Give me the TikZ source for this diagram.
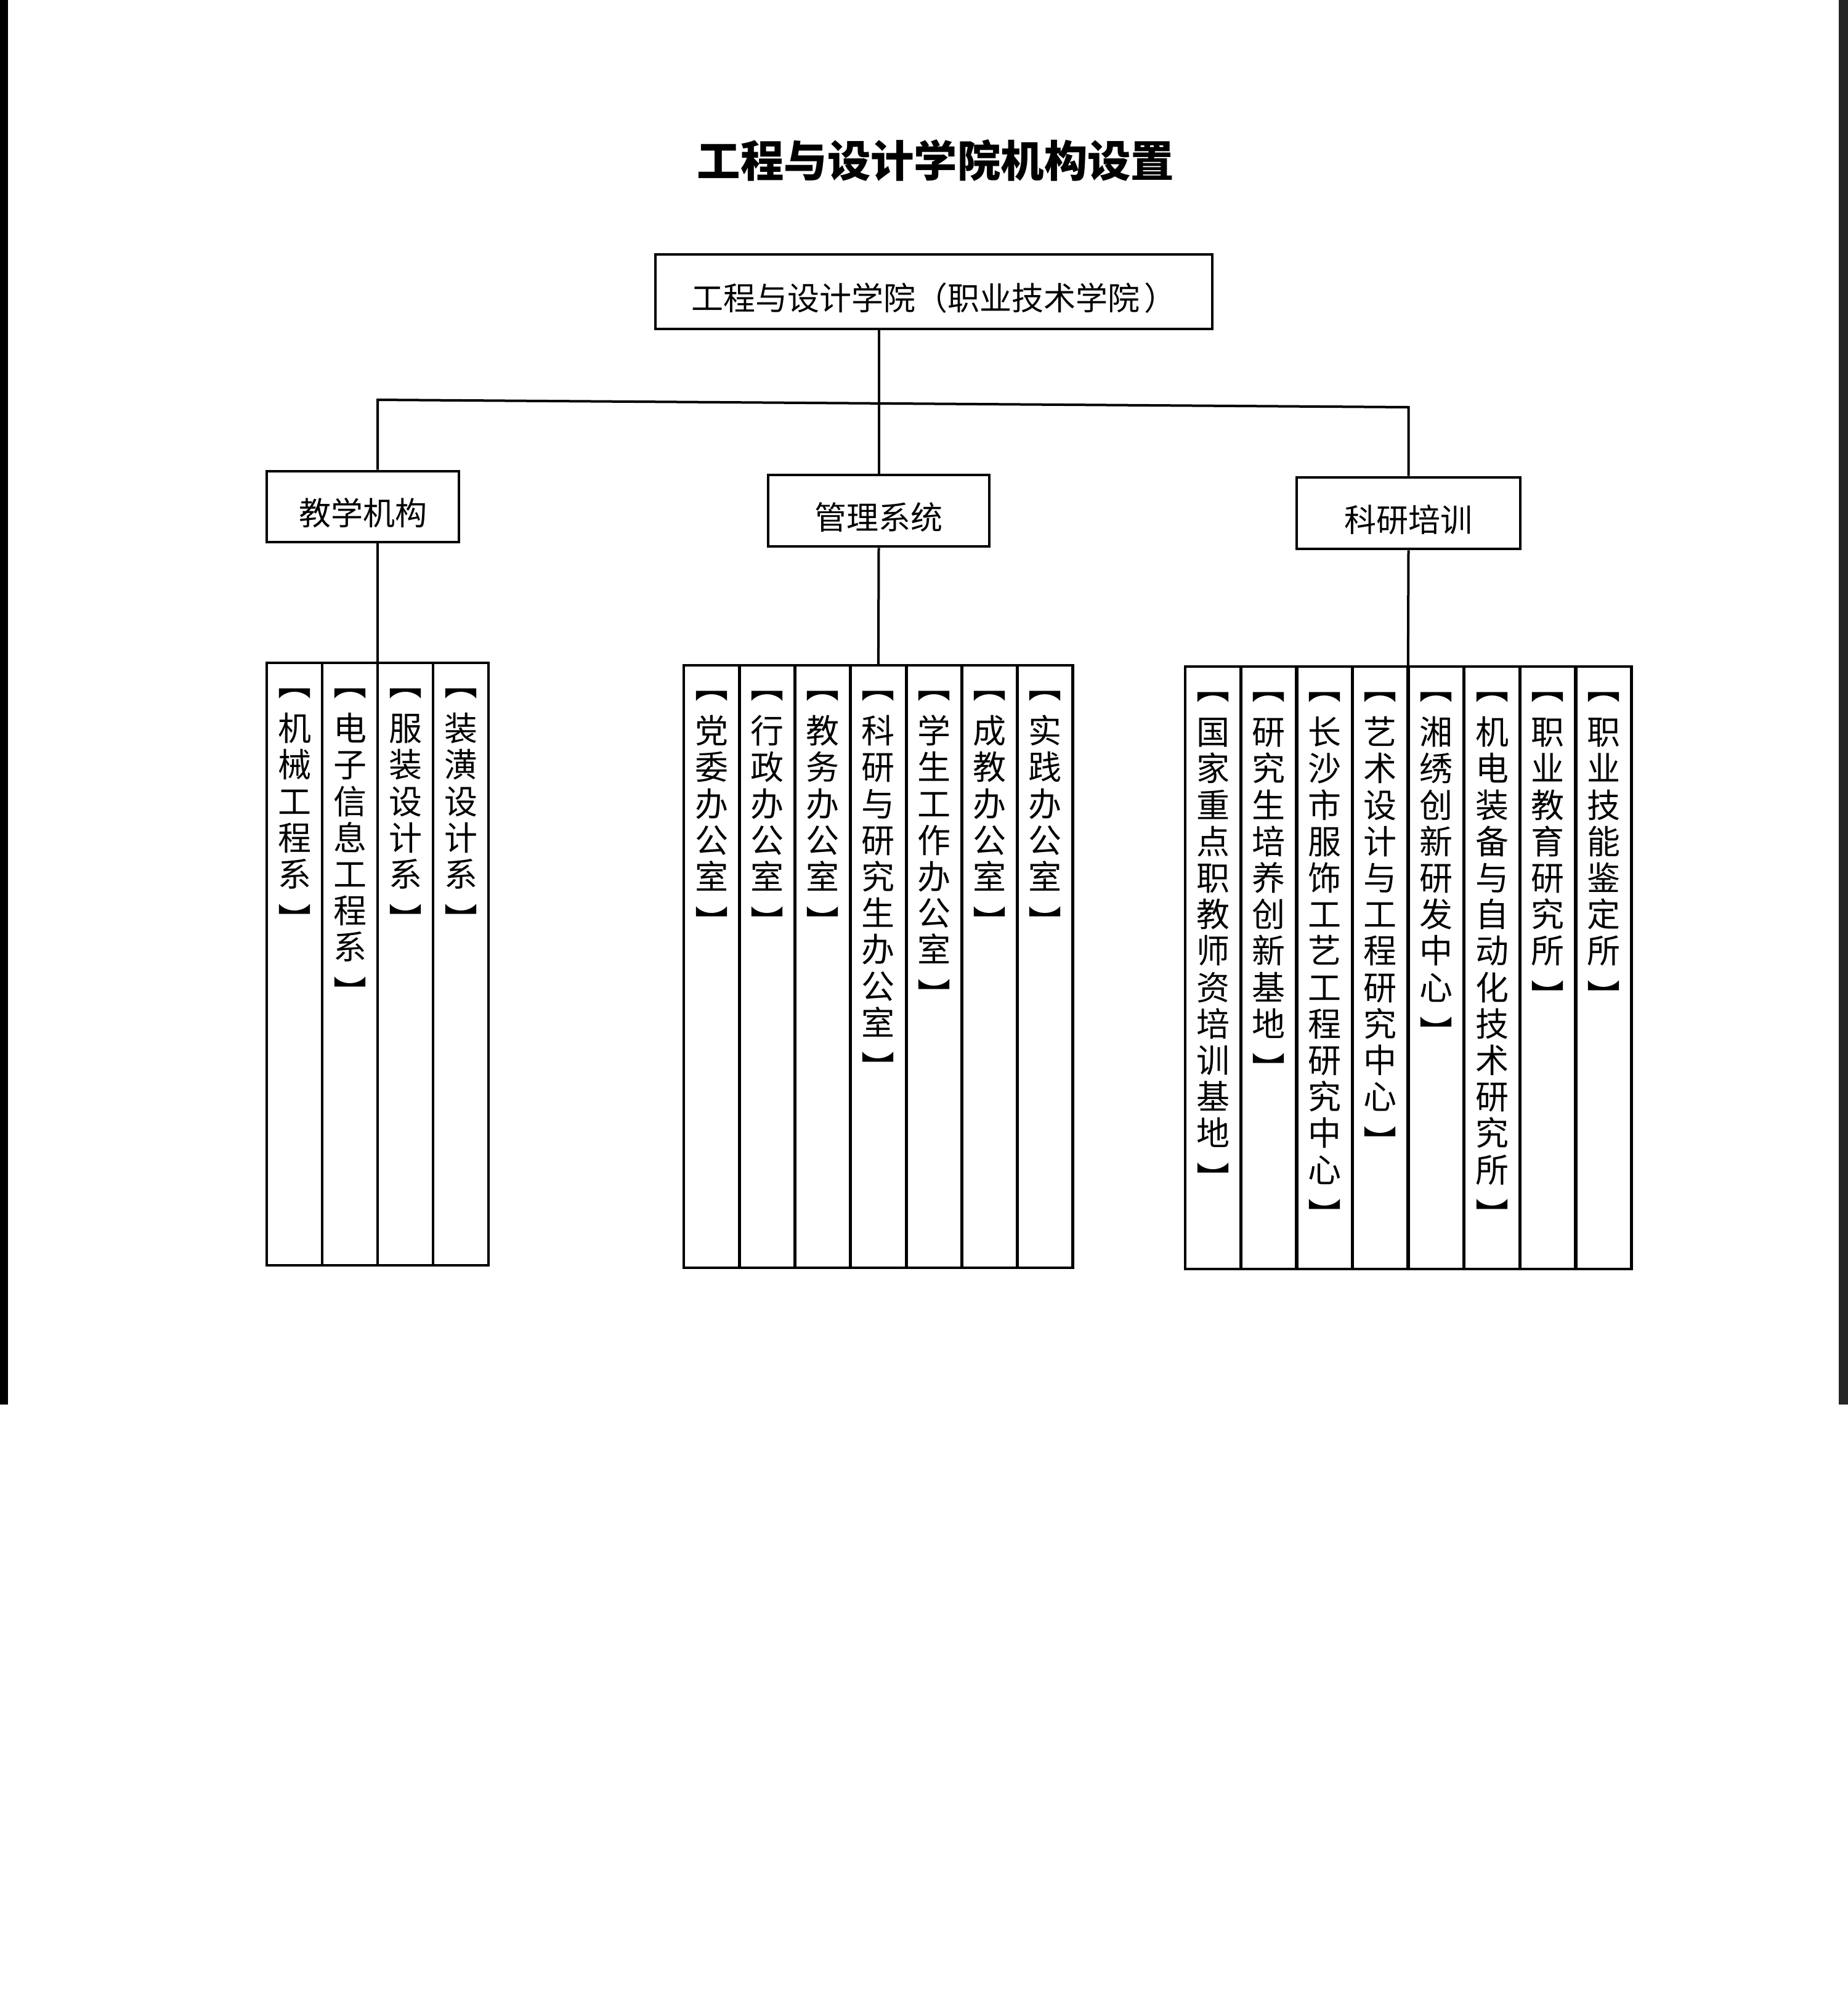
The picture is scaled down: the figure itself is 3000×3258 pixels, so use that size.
\documentclass[tikz,border=0pt]{standalone}
\usepackage{fontspec}
\newfontfamily\cjk{Noto Sans CJK SC}
\newcommand\leafcol[4]{%
  \node[leafbox, anchor=north west] (#1) at (#2,#3) {};
  \node[leaftext, anchor=north] (#1t) at ([yshift=-10.2pt]#1.north) {︻\\[3.6pt]#4\\[3.6pt]︼};}
\begin{document}
\begin{tikzpicture}[x=0.25pt,y=-0.25pt,
  box/.style={draw=black, line width=1.2pt, fill=white, inner sep=0pt},
  boxtext/.style={inner sep=0pt, font=\cjk\fontsize{13pt}{15pt}\selectfont},
  conn/.style={draw=black, line width=1pt},
  leafbox/.style={draw=black, line width=1.2pt, minimum width=22.5pt, minimum height=244.5pt, inner sep=0pt, outer sep=0pt},
  leaftext/.style={align=center, inner sep=0pt, font=\cjk\fontsize{13.5pt}{14.8pt}\selectfont}]
\useasboundingbox (0,0) rectangle (3000,3258);
\fill[white] (0,0) rectangle (3000,3258);
\fill[black] (0,0) rectangle (13,2280);
\fill[black!85] (2985,0) rectangle (3000,2280);

\node[font=\cjk\bfseries\fontsize{17.6pt}{20pt}\selectfont, inner sep=0pt] (title) at (1519,260) {工程与设计学院机构设置};

\node[box, minimum width=226pt, minimum height=30.25pt] (top) at (1516,473.5) {};
\node[boxtext] (topt) at ([yshift=-2.6pt]top.center) {工程与设计学院（职业技术学院\hspace{2pt}）};
\node[box, minimum width=78pt, minimum height=28.75pt] (L2a) at (589,822.5) {};
\node[boxtext] (L2at) at ([yshift=-2.6pt]L2a.center) {教学机构};
\node[box, minimum width=89.75pt, minimum height=29pt] (L2b) at (1426.5,829) {};
\node[boxtext] (L2bt) at ([yshift=-2.6pt]L2b.center) {管理系统};
\node[box, minimum width=90.75pt, minimum height=29pt] (L2c) at (2286.5,833) {};
\node[boxtext] (L2ct) at ([yshift=-2.6pt]L2c.center) {科研培训};

% teaching units
\leafcol{a1}{433}{1076}{机\\械\\工\\程\\系}
\leafcol{a2}{523}{1076}{电\\子\\信\\息\\工\\程\\系}
\leafcol{a3}{613}{1076}{服\\装\\设\\计\\系}
\leafcol{a4}{703}{1076}{装\\潢\\设\\计\\系}
% management
\leafcol{b1}{1110}{1080}{党\\委\\办\\公\\室}
\leafcol{b2}{1200.3}{1080}{行\\政\\办\\公\\室}
\leafcol{b3}{1290.6}{1080}{教\\务\\办\\公\\室}
\leafcol{b4}{1380.9}{1080}{科\\研\\与\\研\\究\\生\\办\\公\\室}
\leafcol{b5}{1471.2}{1080}{学\\生\\工\\作\\办\\公\\室}
\leafcol{b6}{1561.5}{1080}{成\\教\\办\\公\\室}
\leafcol{b7}{1651.8}{1080}{实\\践\\办\\公\\室}
% research & training
\leafcol{c1}{1924}{1082}{国\\家\\重\\点\\职\\教\\师\\资\\培\\训\\基\\地}
\leafcol{c2}{2014.6}{1082}{研\\究\\生\\培\\养\\创\\新\\基\\地}
\leafcol{c3}{2105.2}{1082}{长\\沙\\市\\服\\饰\\工\\艺\\工\\程\\研\\究\\中\\心}
\leafcol{c4}{2195.8}{1082}{艺\\术\\设\\计\\与\\工\\程\\研\\究\\中\\心}
\leafcol{c5}{2286.4}{1082}{湘\\绣\\创\\新\\研\\发\\中\\心}
\leafcol{c6}{2377}{1082}{机\\电\\装\\备\\与\\自\\动\\化\\技\\术\\研\\究\\所}
\leafcol{c7}{2467.6}{1082}{职\\业\\教\\育\\研\\究\\所}
\leafcol{c8}{2558.2}{1082}{职\\业\\技\\能\\鉴\\定\\所}

\coordinate (jl) at (a2.north east);
\coordinate (busL) at (613,649);
\coordinate (busR) at (2286.5,661);
\draw[conn] (L2a.north -| jl) -- (busL) -- (busR) -- (L2c.north);
\draw[conn] (top.south -| L2b.north) -- (L2b.north);
\draw[conn] (L2a.south -| jl) -- (jl);
\draw[conn] (L2b.south) -- (b4.north);
\draw[conn] (L2c.south) -- (c4.north east);
\end{tikzpicture}
\end{document}
